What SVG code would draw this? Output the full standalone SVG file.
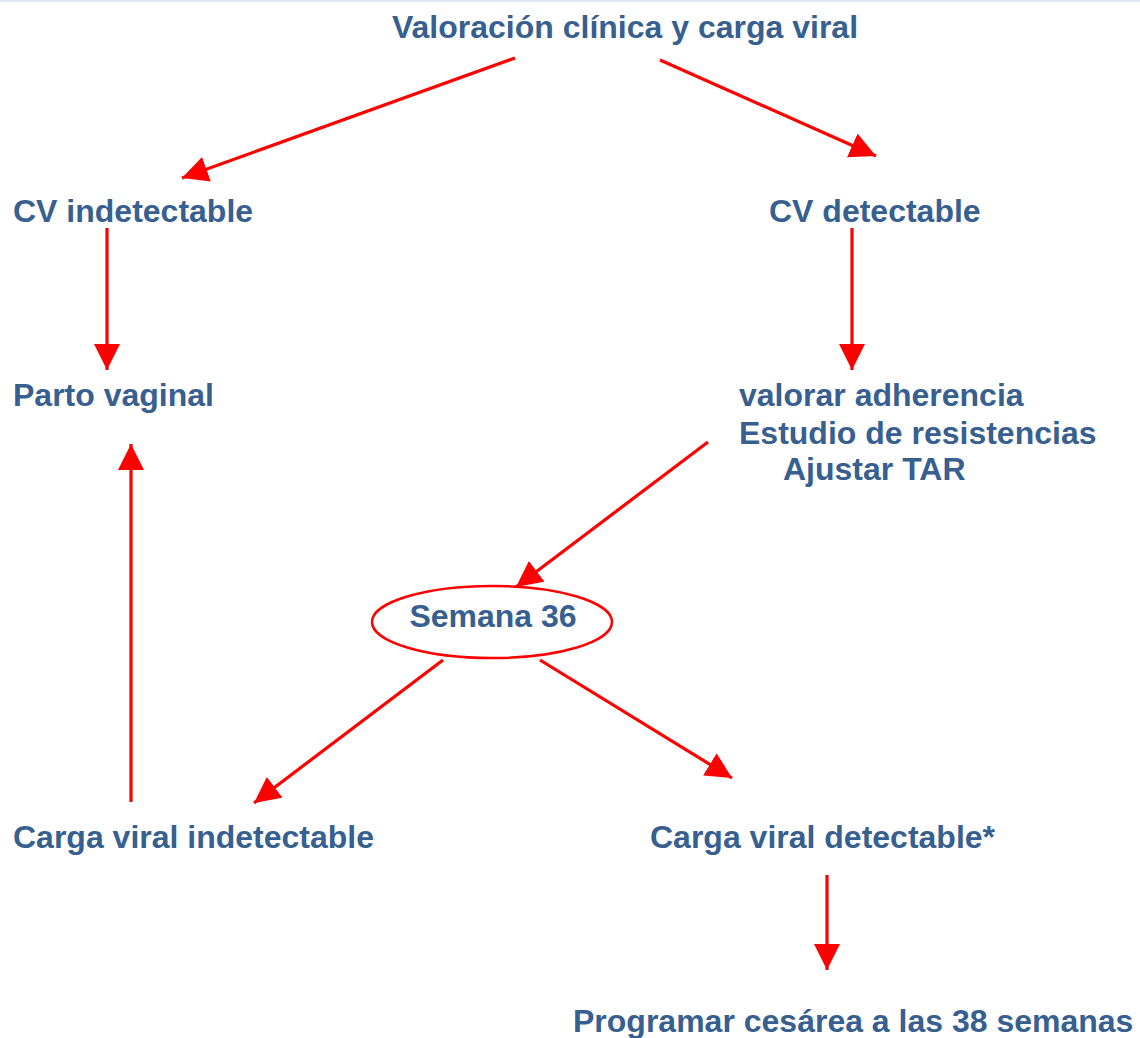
<svg xmlns="http://www.w3.org/2000/svg" width="1140" height="1038" viewBox="0 0 1140 1038">
<style>
.t{font-family:"Liberation Sans",Arial,sans-serif;font-weight:bold;font-size:32px;fill:#375f8f}
.c{stroke:#ff0000;stroke-width:3.2;fill:none}
</style>
<defs>
<marker id="ah" markerUnits="userSpaceOnUse" markerWidth="28" markerHeight="26" refX="26" refY="13" orient="auto">
<path d="M0,0 L26,13 L0,26 z" fill="#ff0000"/>
</marker>
</defs>
<rect width="1140" height="1038" fill="#ffffff"/>
<line x1="0" y1="1" x2="1140" y2="1" stroke="#dfe6ef" stroke-width="2"/>
<g id="connectors">
<line class="c" x1="515" y1="58" x2="182" y2="178" marker-end="url(#ah)"/>
<line class="c" x1="660" y1="60" x2="876" y2="156" marker-end="url(#ah)"/>
<line class="c" x1="107" y1="228" x2="107" y2="370" marker-end="url(#ah)"/>
<line class="c" x1="852" y1="228" x2="852" y2="370" marker-end="url(#ah)"/>
<line class="c" x1="708" y1="442" x2="516" y2="587" marker-end="url(#ah)"/>
<line class="c" x1="443" y1="660" x2="254" y2="803" marker-end="url(#ah)"/>
<line class="c" x1="540" y1="660" x2="732" y2="778" marker-end="url(#ah)"/>
<line class="c" x1="131" y1="802" x2="131" y2="444" marker-end="url(#ah)"/>
<line class="c" x1="827" y1="875" x2="827" y2="970" marker-end="url(#ah)"/>
</g>
<g id="n-valoracion"><text class="t" x="625" y="38" text-anchor="middle">Valoración clínica y carga viral</text></g>
<g id="n-cv-indet"><text class="t" x="13" y="222">CV indetectable</text></g>
<g id="n-cv-det"><text class="t" x="769" y="222">CV detectable</text></g>
<g id="n-parto"><text class="t" x="13" y="406">Parto vaginal</text></g>
<g id="n-valorar">
<text class="t" x="739" y="406">valorar adherencia</text>
<text class="t" x="739" y="444">Estudio de resistencias</text>
<text class="t" x="783" y="480">Ajustar TAR</text>
</g>
<g id="n-semana">
<ellipse cx="492" cy="622" rx="120" ry="36" fill="none" stroke="#ff0000" stroke-width="2.5"/>
<text class="t" x="493" y="627" text-anchor="middle">Semana 36</text>
</g>
<g id="n-carga-indet"><text class="t" x="13" y="848">Carga viral indetectable</text></g>
<g id="n-carga-det"><text class="t" x="650" y="848">Carga viral detectable*</text></g>
<g id="n-programar"><text class="t" x="573" y="1032">Programar cesárea a las 38 semanas</text></g>
</svg>
